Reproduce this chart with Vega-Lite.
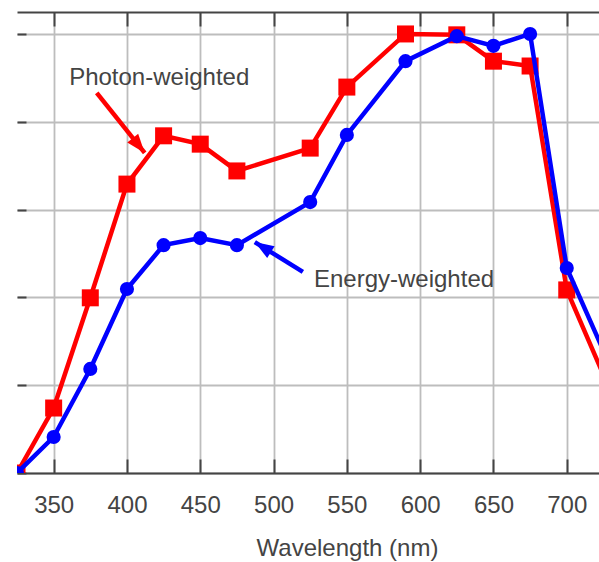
{
  "$schema": "https://vega.github.io/schema/vega-lite/v6.json",
  "width": 582,
  "height": 461,
  "autosize": {"type": "none"},
  "padding": {"left": 17, "top": 12, "right": 0, "bottom": 89},
  "background": "white",
  "config": {"view": {"stroke": null}, "font": "Liberation Sans"},
  "datasets": {
    "spectra": [
      {"wavelength": 325, "value": 0.0, "series": "Photon-weighted"},
      {"wavelength": 350, "value": 0.148, "series": "Photon-weighted"},
      {"wavelength": 375, "value": 0.399, "series": "Photon-weighted"},
      {"wavelength": 400, "value": 0.658, "series": "Photon-weighted"},
      {"wavelength": 425, "value": 0.768, "series": "Photon-weighted"},
      {"wavelength": 450, "value": 0.749, "series": "Photon-weighted"},
      {"wavelength": 475, "value": 0.688, "series": "Photon-weighted"},
      {"wavelength": 525, "value": 0.740, "series": "Photon-weighted"},
      {"wavelength": 550, "value": 0.879, "series": "Photon-weighted"},
      {"wavelength": 590, "value": 1.0, "series": "Photon-weighted"},
      {"wavelength": 625, "value": 0.998, "series": "Photon-weighted"},
      {"wavelength": 650, "value": 0.938, "series": "Photon-weighted"},
      {"wavelength": 675, "value": 0.927, "series": "Photon-weighted"},
      {"wavelength": 700, "value": 0.417, "series": "Photon-weighted"},
      {"wavelength": 750, "value": 0.03, "series": "Photon-weighted"},
      {"wavelength": 325, "value": 0.0, "series": "Energy-weighted"},
      {"wavelength": 350, "value": 0.082, "series": "Energy-weighted"},
      {"wavelength": 375, "value": 0.237, "series": "Energy-weighted"},
      {"wavelength": 400, "value": 0.419, "series": "Energy-weighted"},
      {"wavelength": 425, "value": 0.519, "series": "Energy-weighted"},
      {"wavelength": 450, "value": 0.535, "series": "Energy-weighted"},
      {"wavelength": 475, "value": 0.519, "series": "Energy-weighted"},
      {"wavelength": 525, "value": 0.617, "series": "Energy-weighted"},
      {"wavelength": 550, "value": 0.770, "series": "Energy-weighted"},
      {"wavelength": 590, "value": 0.938, "series": "Energy-weighted"},
      {"wavelength": 625, "value": 0.995, "series": "Energy-weighted"},
      {"wavelength": 650, "value": 0.973, "series": "Energy-weighted"},
      {"wavelength": 675, "value": 1.0, "series": "Energy-weighted"},
      {"wavelength": 700, "value": 0.467, "series": "Energy-weighted"},
      {"wavelength": 750, "value": 0.09, "series": "Energy-weighted"}
    ],
    "arrows": [
      {"series": "Photon-weighted", "x": 379.4, "y": 0.866, "x2": 412.1, "y2": 0.729, "angle": 141},
      {"series": "Energy-weighted", "x": 520.0, "y": 0.458, "x2": 487.2, "y2": 0.526, "angle": 302}
    ],
    "labels": [
      {"label": "Photon-weighted", "x": 422, "y": 0.90},
      {"label": "Energy-weighted", "x": 589, "y": 0.44}
    ]
  },
  "resolve": {"axis": {"x": "independent"}},
  "layer": [
    {
      "data": {"name": "spectra"},
      "transform": [{"filter": "datum.series == 'Photon-weighted'"}],
      "mark": {"type": "line", "color": "#ff0000", "strokeWidth": 4.5, "clip": true},
      "encoding": {
        "x": {
          "field": "wavelength", "type": "quantitative",
          "scale": {"domain": [325, 722], "nice": false, "zero": false},
          "axis": {
            "orient": "bottom",
            "values": [350, 400, 450, 500, 550, 600, 650, 700],
            "grid": true, "gridColor": "#bdbdbd", "gridWidth": 1.8,
            "domain": true, "domainColor": "#444444", "domainWidth": 2,
            "ticks": true, "tickColor": "#444444", "tickWidth": 2, "tickSize": -14,
            "labelFontSize": 24, "labelColor": "#444444", "labelPadding": 34,
            "title": "Wavelength (nm)", "titleFontSize": 24, "titleFontWeight": "normal",
            "titleColor": "#444444", "titlePadding": 19, "titleX": 330
          }
        },
        "y": {
          "field": "value", "type": "quantitative",
          "scale": {"domain": [0, 1.05], "nice": false, "zero": false},
          "axis": {
            "values": [0, 0.2, 0.4, 0.6, 0.8, 1.0],
            "grid": true, "gridColor": "#bdbdbd", "gridWidth": 1.8,
            "domain": false, "labels": false, "title": null,
            "ticks": true, "tickColor": "#444444", "tickWidth": 2, "tickSize": -9
          }
        }
      }
    },
    {
      "data": {"name": "spectra"},
      "transform": [{"filter": "datum.series == 'Photon-weighted'"}],
      "mark": {"type": "point", "shape": "square", "filled": true, "opacity": 1, "color": "#ff0000", "size": 289, "clip": true},
      "encoding": {
        "x": {"field": "wavelength", "type": "quantitative", "axis": null},
        "y": {"field": "value", "type": "quantitative"}
      }
    },
    {
      "data": {"name": "spectra"},
      "transform": [{"filter": "datum.series == 'Energy-weighted'"}],
      "mark": {"type": "line", "color": "#0000ff", "strokeWidth": 4.5, "clip": true},
      "encoding": {
        "x": {
          "field": "wavelength", "type": "quantitative",
          "axis": {
            "orient": "top",
            "values": [350, 400, 450, 500, 550, 600, 650, 700],
            "grid": false, "labels": false, "title": null,
            "domain": true, "domainColor": "#444444", "domainWidth": 2,
            "ticks": true, "tickColor": "#444444", "tickWidth": 2, "tickSize": -14
          }
        },
        "y": {"field": "value", "type": "quantitative"}
      }
    },
    {
      "data": {"name": "spectra"},
      "transform": [{"filter": "datum.series == 'Energy-weighted'"}],
      "mark": {"type": "point", "shape": "circle", "filled": true, "opacity": 1, "color": "#0000ff", "size": 200, "clip": true},
      "encoding": {
        "x": {"field": "wavelength", "type": "quantitative", "axis": null},
        "y": {"field": "value", "type": "quantitative"}
      }
    },
    {
      "data": {"name": "arrows"},
      "mark": {"type": "rule", "strokeWidth": 4.5},
      "encoding": {
        "x": {"field": "x", "type": "quantitative", "axis": null},
        "y": {"field": "y", "type": "quantitative"},
        "x2": {"field": "x2"},
        "y2": {"field": "y2"},
        "color": {"field": "series", "type": "nominal", "scale": {"domain": ["Photon-weighted", "Energy-weighted"], "range": ["#ff0000", "#0000ff"]}, "legend": null}
      }
    },
    {
      "data": {"name": "arrows"},
      "mark": {"type": "point", "shape": "M0,0 L-1.4,3.8 L1.4,3.8 Z", "filled": true, "opacity": 1, "size": 100},
      "encoding": {
        "x": {"field": "x2", "type": "quantitative", "axis": null},
        "y": {"field": "y2", "type": "quantitative"},
        "angle": {"field": "angle", "type": "quantitative", "scale": null},
        "color": {"field": "series", "type": "nominal", "scale": {"domain": ["Photon-weighted", "Energy-weighted"], "range": ["#ff0000", "#0000ff"]}, "legend": null}
      }
    },
    {
      "data": {"name": "labels"},
      "mark": {"type": "text", "fontSize": 24, "color": "#444444", "align": "center", "baseline": "middle"},
      "encoding": {
        "x": {"field": "x", "type": "quantitative", "axis": null},
        "y": {"field": "y", "type": "quantitative"},
        "text": {"field": "label"}
      }
    }
  ]
}
